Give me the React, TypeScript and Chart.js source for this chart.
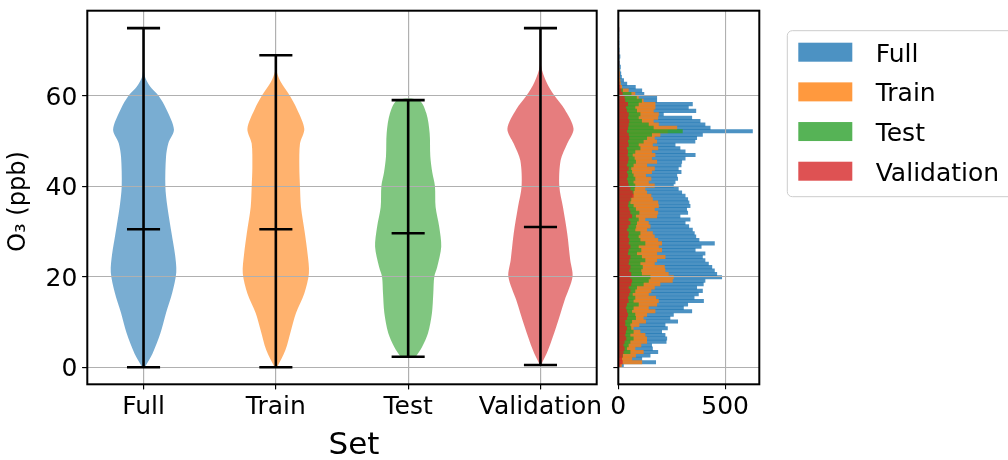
import React, { useEffect, useRef } from 'react';
import { Chart, registerables } from 'chart.js';

Chart.register(...registerables);

const FONT = 'DejaVu Sans';

// ---------- data ----------
const categories = ['Full', 'Train', 'Test', 'Validation'];
const yTicks = [0, 20, 40, 60];
const histTicks = [0, 500];
const xTitle = 'Set';
const yTitle = 'O₃ (ppb)';

const setMins = [0, 0, 2.35, 0.5];
const setMaxes = [74.9, 68.9, 59.0, 74.9];
const setMeans = [30.5, 30.5, 29.6, 31.0];

// violin density profiles (relative width, 1 = widest)
const fullLevels = [0, 3, 7.5, 12, 16.5, 21, 25, 29.5, 35.5, 40, 46.5, 49.5, 52.5, 57, 60, 62, 64.5, 70, 75];
const fullWidths = [0.04, 0.27, 0.51, 0.68, 0.87, 0.99, 0.95, 0.85, 0.72, 0.66, 0.68, 0.75, 0.92, 0.69, 0.45, 0.2, 0.03, 0.005, 0];
const trainLevels = [0, 3.8, 8.2, 12, 16.3, 20.8, 25, 29.5, 35.4, 40, 44.3, 49.4, 52.7, 57, 60, 63, 65.5, 68.9];
const trainWidths = [0.04, 0.29, 0.46, 0.61, 0.86, 1.0, 0.96, 0.88, 0.76, 0.73, 0.71, 0.73, 0.86, 0.64, 0.42, 0.15, 0.02, 0];
const testLevels = [2.35, 4.5, 7.5, 12, 16.3, 20, 22.2, 26.6, 31, 35.4, 40, 43, 46.6, 51.7, 56.1, 59];
const testWidths = [0.23, 0.42, 0.6, 0.72, 0.76, 0.79, 0.88, 1.0, 0.94, 0.83, 0.81, 0.73, 0.67, 0.65, 0.55, 0.33];
const valLevels = [0.5, 3.8, 9, 14.8, 20, 23.7, 29.5, 35.4, 40, 45.7, 49.4, 52.7, 57, 60, 63, 66.6, 75];
const valWidths = [0.02, 0.23, 0.48, 0.73, 0.97, 0.9, 0.81, 0.68, 0.57, 0.61, 0.81, 1.0, 0.73, 0.42, 0.18, 0.02, 0];

// histogram (bins of 0.75 ppb starting at 0)
const binWidth = 0.75;
const fullCounts = [
  24, 175, 110, 149, 185, 160, 156, 224, 227, 219,
  203, 230, 219, 278, 242, 258, 344, 305, 325, 399,
  355, 375, 394, 367, 398, 406, 484, 461, 450, 438,
  422, 406, 394, 406, 360, 388, 450, 378, 363, 356,
  347, 330, 313, 336, 289, 325, 320, 336, 331, 325,
  313, 297, 281, 258, 266, 278, 274, 294, 281, 294,
  297, 313, 360, 313, 289, 266, 359, 367, 394, 628,
  430, 406, 383, 344, 211, 363, 328, 347, 180, 180,
  120, 110, 80, 40, 25, 15, 12, 8, 10, 6,
  5, 8, 3, 4, 2, 3, 1, 2, 1, 1,
];
const trainCounts = [
  15, 110, 63, 81, 117, 78, 106, 133, 133, 125,
  102, 70, 97, 128, 117, 133, 172, 141, 180, 188,
  175, 141, 153, 169, 195, 253, 258, 234, 219, 216,
  169, 180, 219, 180, 203, 188, 203, 185, 169, 160,
  133, 149, 141, 125, 180, 185, 169, 188, 185, 160,
  153, 133, 125, 169, 141, 153, 128, 156, 169, 133,
  180, 156, 172, 156, 185, 160, 180, 169, 195, 230,
  274, 188, 164, 185, 188, 164, 172, 172, 117, 94,
  78, 47, 16, 10, 8, 5, 6, 4, 3, 2,
  2, 1, 0, 0, 0, 0, 0, 0, 0, 0,
];
const testCounts = [
  0, 0, 0, 20, 55, 39, 47, 55, 70, 55,
  70, 59, 55, 63, 81, 78, 63, 70, 94, 70,
  78, 66, 78, 86, 117, 141, 149, 109, 106, 113,
  102, 125, 109, 86, 106, 94, 125, 102, 94, 102,
  78, 82, 86, 94, 81, 97, 81, 70, 55, 59,
  63, 70, 75, 78, 70, 78, 70, 63, 59, 70,
  81, 75, 66, 78, 102, 94, 117, 133, 156, 300,
  164, 141, 109, 94, 102, 86, 78, 94, 109, 85,
  60, 20, 0, 0, 0, 0, 0, 0, 0, 0,
  0, 0, 0, 0, 0, 0, 0, 0, 0, 0,
];
const validationCounts = [
  8, 19, 16, 19, 23, 28, 23, 28, 36, 31,
  34, 39, 31, 31, 39, 44, 39, 34, 39, 47,
  44, 50, 55, 47, 59, 63, 55, 59, 50, 55,
  47, 50, 55, 44, 47, 55, 47, 50, 44, 47,
  39, 46, 55, 47, 63, 55, 50, 44, 47, 55,
  70, 66, 55, 47, 44, 39, 44, 39, 47, 39,
  44, 47, 42, 44, 39, 47, 44, 50, 47, 39,
  44, 47, 50, 44, 47, 39, 34, 44, 31, 28,
  19, 13, 8, 4, 2, 1, 1, 0, 0, 1,
  0, 0, 1, 0, 0, 0, 0, 0, 0, 1,
];

// ---------- styles ----------
const violinColors = ['rgba(31,119,180,0.6)', 'rgba(255,127,14,0.6)', 'rgba(44,160,44,0.6)', 'rgba(214,39,40,0.6)'];
const histColors = ['rgba(31,119,180,0.8)', 'rgba(255,127,14,0.8)', 'rgba(44,160,44,0.8)', 'rgba(214,39,40,0.8)'];
const GRID = '#b0b0b0';

const violinLevels = [fullLevels, trainLevels, testLevels, valLevels];
const violinWidths = [fullWidths, trainWidths, testWidths, valWidths];
const histSeries = [fullCounts, trainCounts, testCounts, validationCounts];

const framePlugin = {
  id: 'frameBox',
  afterDraw(chart: any) {
    const { left, top, right, bottom } = chart.chartArea;
    const ctx = chart.ctx;
    ctx.save();
    ctx.strokeStyle = '#000';
    ctx.lineWidth = 2;
    ctx.strokeRect(left, top, right - left, bottom - top);
    ctx.restore();
  },
};

const gridAbovePlugin = {
  id: 'gridAbove',
  beforeDatasetsDraw(chart: any) {
    chart.$gridDone = false;
  },
  beforeDatasetDraw(chart: any, args: any) {
    const ds = chart.data.datasets[args.index];
    if (!chart.$gridDone && ds.order === 1) {
      chart.$gridDone = true;
      chart.ctx.save();
      chart.scales.x.drawGrid(chart.chartArea);
      chart.scales.y.drawGrid(chart.chartArea);
      chart.ctx.restore();
    }
  },
};

const axisTitlesPlugin = {
  id: 'axisTitles',
  afterDraw(chart: any) {
    const ctx = chart.ctx;
    const { top, bottom } = chart.chartArea;
    ctx.save();
    ctx.fillStyle = '#000';
    ctx.textAlign = 'center';
    ctx.textBaseline = 'middle';
    ctx.font = `31px "${FONT}"`;
    ctx.fillText(xTitle, 354, 446);
    ctx.translate(19, (top + bottom) / 2 + 4);
    ctx.rotate(-Math.PI / 2);
    ctx.font = `24px "${FONT}"`;
    ctx.fillText(yTitle, 0, 0);
    ctx.restore();
  },
};

const legendPlugin = {
  id: 'sideLegend',
  afterDraw(chart: any) {
    const ctx = chart.ctx;
    const x0 = chart.chartArea.right + 28;
    const y0 = 30.7;
    ctx.save();
    ctx.beginPath();
    ctx.roundRect(x0, y0, 280, 166, 5);
    ctx.fillStyle = 'rgba(255,255,255,0.8)';
    ctx.fill();
    ctx.strokeStyle = '#cccccc';
    ctx.lineWidth = 1;
    ctx.stroke();
    ctx.font = `25px "${FONT}"`;
    ctx.textAlign = 'left';
    ctx.textBaseline = 'alphabetic';
    categories.forEach((name, i) => {
      const base = 61.7 + i * 39.67;
      ctx.fillStyle = histColors[i];
      ctx.fillRect(x0 + 11, base - 19, 54, 19);
      ctx.fillStyle = '#000';
      ctx.fillText(name, x0 + 88.4, base);
    });
    ctx.restore();
  },
};

function buildViolinConfig(): any {
  const fills = categories.map((_, k) => {
    const pos = k + 1;
    const lv = violinLevels[k];
    const wd = violinWidths[k];
    const right = lv.map((y, i) => ({ x: pos + wd[i] * 0.25, y }));
    const left = lv.map((y, i) => ({ x: pos - wd[i] * 0.25, y })).reverse();
    return {
      data: [...right, ...left],
      showLine: true,
      fill: 'shape',
      backgroundColor: violinColors[k],
      borderWidth: 0,
      borderColor: 'rgba(0,0,0,0)',
      pointRadius: 0,
      tension: 0.3,
      order: 10,
    };
  });
  const lineDs = (pts: { x: number; y: number }[]) => ({
    data: pts,
    showLine: true,
    fill: false,
    borderColor: '#000',
    borderWidth: 2.6,
    pointRadius: 0,
    tension: 0,
    order: 1,
  });
  const whiskers: any[] = [];
  categories.forEach((_, k) => {
    const pos = k + 1;
    whiskers.push(lineDs([{ x: pos, y: setMins[k] }, { x: pos, y: setMaxes[k] }]));
    [setMins[k], setMaxes[k], setMeans[k]].forEach((v) => {
      whiskers.push(lineDs([{ x: pos - 0.125, y: v }, { x: pos + 0.125, y: v }]));
    });
  });

  return {
    type: 'scatter',
    data: { datasets: [...fills, ...whiskers] },
    options: {
      responsive: false,
      animation: false,
      layout: { padding: { top: 10.7, right: 23.3, left: 0, bottom: 0 } },
      plugins: { legend: { display: false }, tooltip: { enabled: false } },
      scales: {
        x: {
          type: 'linear',
          min: 0.575,
          max: 4.425,
          afterBuildTicks: (s: any) => {
            s.ticks = categories.map((_, i) => ({ value: i + 1 }));
          },
          afterFit: (s: any) => {
            s.height = 75.7;
            s.paddingLeft = 0;
            s.paddingRight = 0;
          },
          ticks: {
            callback: (_v: any, i: number) => categories[i],
            font: { family: FONT, size: 25 },
            color: '#000',
            padding: 3,
            autoSkip: false,
            maxRotation: 0,
            minRotation: 0,
          },
          grid: { color: GRID, lineWidth: 1.1, tickLength: 5, tickColor: '#000', tickWidth: 1.1 },
          border: { display: false },
        },
        y: {
          type: 'linear',
          min: -3.75,
          max: 78.75,
          afterBuildTicks: (s: any) => {
            s.ticks = yTicks.map((v) => ({ value: v }));
          },
          afterFit: (s: any) => {
            s.width = 87.3;
            s.paddingTop = 0;
            s.paddingBottom = 0;
          },
          ticks: {
            callback: (v: any) => String(v),
            font: { family: FONT, size: 25 },
            color: '#000',
            padding: 5,
            labelOffset: 2.5,
          },
          grid: { color: GRID, lineWidth: 1.1, tickLength: 5, tickColor: '#000', tickWidth: 1.1 },
          border: { display: false },
        },
      },
    },
    plugins: [gridAbovePlugin, framePlugin, axisTitlesPlugin],
  };
}

function buildHistConfig(): any {
  const datasets = histSeries.map((counts, k) => ({
    label: categories[k],
    data: counts.map((c, i) => ({ x: c, y: (i + 0.5) * binWidth })),
    backgroundColor: histColors[k],
    borderWidth: 0,
    barPercentage: 1,
    categoryPercentage: 1,
    grouped: false,
    order: 4 - k,
  }));
  return {
    type: 'bar',
    data: { datasets },
    options: {
      indexAxis: 'y',
      responsive: false,
      animation: false,
      layout: { padding: { top: 10.7, right: 248.7, left: 0, bottom: 0 } },
      plugins: { legend: { display: false }, tooltip: { enabled: false } },
      scales: {
        x: {
          type: 'linear',
          min: 0,
          max: 660,
          afterBuildTicks: (s: any) => {
            s.ticks = histTicks.map((v) => ({ value: v }));
          },
          afterFit: (s: any) => {
            s.height = 75.7;
            s.paddingLeft = 0;
            s.paddingRight = 0;
          },
          ticks: {
            callback: (v: any) => String(v),
            font: { family: FONT, size: 25 },
            color: '#000',
            padding: 3,
            autoSkip: false,
            maxRotation: 0,
          },
          grid: { color: GRID, lineWidth: 1.1, tickLength: 5, tickColor: '#000', tickWidth: 1.1, z: 1 },
          border: { display: false },
        },
        y: {
          type: 'linear',
          min: -3.75,
          max: 78.75,
          offset: false,
          afterBuildTicks: (s: any) => {
            s.ticks = yTicks.map((v) => ({ value: v }));
          },
          afterFit: (s: any) => {
            s.width = 18.3;
            s.paddingTop = 0;
            s.paddingBottom = 0;
          },
          ticks: { callback: () => '', padding: 0 },
          grid: { offset: false, color: GRID, lineWidth: 1.1, tickLength: 5, tickColor: '#000', tickWidth: 1.1, z: 1 },
          border: { display: false },
        },
      },
    },
    plugins: [framePlugin, legendPlugin],
  };
}

export default function App() {
  const violinRef = useRef<HTMLCanvasElement>(null);
  const histRef = useRef<HTMLCanvasElement>(null);

  useEffect(() => {
    document.body.style.margin = '0';
    Chart.defaults.font.family = FONT;
    const a = new Chart(violinRef.current as HTMLCanvasElement, buildViolinConfig());
    const b = new Chart(histRef.current as HTMLCanvasElement, buildHistConfig());
    return () => {
      a.destroy();
      b.destroy();
    };
  }, []);

  return (
    <div style={{ position: 'relative', width: 1008, height: 460, overflow: 'hidden', background: '#fff' }}>
      <canvas ref={violinRef} width={620} height={460} style={{ position: 'absolute', left: 0, top: 0, width: 620, height: 460 }} />
      <canvas ref={histRef} width={408} height={460} style={{ position: 'absolute', left: 600, top: 0, width: 408, height: 460 }} />
    </div>
  );
}
